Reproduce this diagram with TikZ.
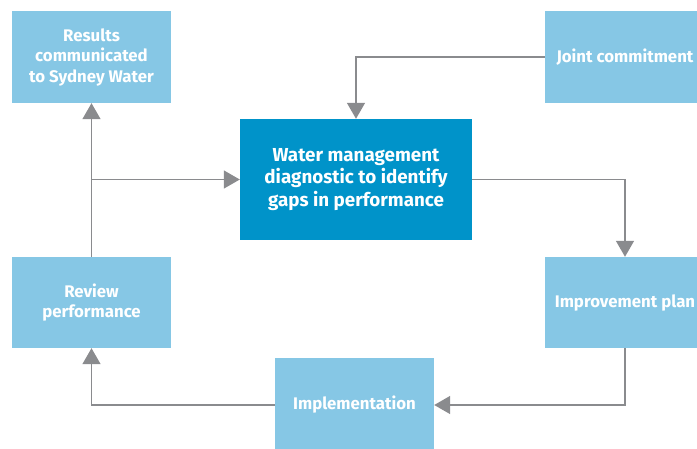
\documentclass[tikz,border=0pt]{standalone}
\usepackage{fontspec}
\setmainfont{Fira Sans}
\usepackage{tikz}
\usetikzlibrary{arrows.meta}

\definecolor{lightblue}{HTML}{86C7E5}
\definecolor{darkblue}{HTML}{0093C9}
\definecolor{linegray}{HTML}{8A8B8E}

\tikzset{
	box/.style={rectangle, fill=lightblue, text=white, align=center,
		font=\fontsize{16.8}{20.5}\selectfont\bfseries, inner sep=0pt},
	arr/.style={draw=linegray, line width=1.4pt, -{Triangle[length=16pt,width=18pt]}}
}

\begin{document}
\begin{tikzpicture}[x=1pt,y=-1pt]
		\useasboundingbox (0,0) rectangle (697,448);
		\clip (0,0) rectangle (697,448);
		% boxes round the cycle
		\node[box, minimum width=159pt, minimum height=92pt] (results) at (91.5,57) {Results\\communicated\\to Sydney Water};
		\node[box, minimum width=160pt, minimum height=92pt] (joint) at (625,57) {Joint commitment};
		\node[box, fill=darkblue, minimum width=232pt, minimum height=121pt, font=\fontsize{18.8}{22.5}\selectfont\bfseries] (diag) at (356,179.5) {Water management\\diagnostic to identify\\gaps in performance};
		\node[box, minimum width=159pt, minimum height=91pt] (review) at (91.5,302.5) {Review\\performance};
		\node[box, minimum width=160pt, minimum height=91pt] (improve) at (625,302.5) {Improvement plan};
		\node[box, minimum width=159pt, minimum height=94pt] (impl) at (354.5,405) {Implementation};
		% connectors
		\draw[arr] (joint.west) -| (diag.north);
		\draw[arr] (diag.east) -| (improve.north);
		\draw[arr] (improve.south) |- (impl.east);
		\draw[arr] (impl.west) -| (review.south);
		\draw[arr] (review.north) -- (results.south);
		\coordinate (branch) at (review.north |- diag.west);
		\draw[arr] (branch) -- (diag.west);
	\end{tikzpicture}
\end{document}
